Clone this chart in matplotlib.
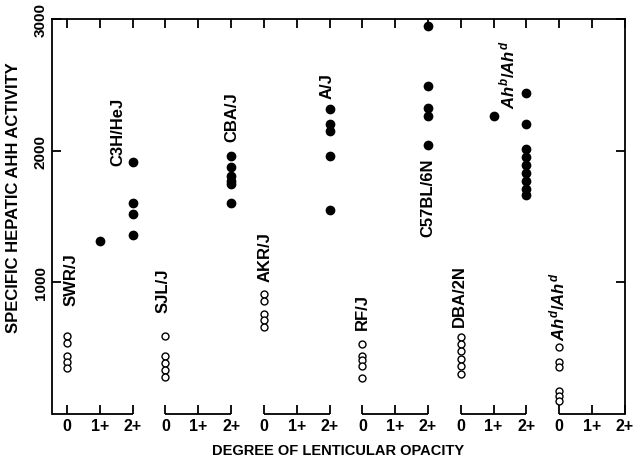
import matplotlib
matplotlib.use("Agg")
import matplotlib.pyplot as plt

plt.rcParams["font.family"] = ["Liberation Sans", "DejaVu Sans"]
plt.rcParams["mathtext.fontset"] = "custom"
plt.rcParams["mathtext.it"] = "Liberation Sans:italic:bold"
plt.rcParams["mathtext.rm"] = "Liberation Sans:bold"

# opacity slots: 6 blocks of 0 / 1+ / 2+
opacity_labels = ["0", "1+", "2+"] * 6

# resistant strains (open circles), all at opacity 0
swr_j = [590, 535, 440, 390, 345]
sjl_j = [590, 440, 385, 330, 275]
akr_j = [910, 855, 757, 711, 658]
rf_j = [528, 440, 405, 360, 270]
dba_2n = [580, 527, 475, 414, 361, 300]
ahd_ahd = [505, 392, 354, 171, 133, 95]

# susceptible strains (filled circles)
c3h_1 = [1310]
c3h_2 = [1910, 1600, 1515, 1355]
cba_j = [1958, 1874, 1806, 1768, 1745, 1600]
a_j = [2316, 2200, 2145, 1955, 1545]
c57bl = [2945, 2490, 2320, 2260, 2045]
ahb_1 = [2262]
ahb_2 = [2440, 2205, 2010, 1950, 1890, 1830, 1770, 1710, 1660]

open_groups = [(0, swr_j), (3, sjl_j), (6, akr_j), (9, rf_j), (12, dba_2n), (15, ahd_ahd)]
filled_groups = [(1, c3h_1), (2, c3h_2), (5, cba_j), (8, a_j), (11, c57bl),
                 (13, ahb_1), (14, ahb_2)]

labels = [
    ("SWR/J", 0.12, 1023),
    ("C3H/HeJ", 1.55, 2148),
    ("SJL/J", 2.93, 939),
    ("CBA/J", 5.03, 2262),
    ("AKR/J", 6.03, 1198),
    ("A/J", 7.92, 2498),
    ("RF/J", 8.99, 779),
    ("C57BL/6N", 11.0, 1646),
    ("DBA/2N", 11.97, 901),
    (r"$Ah^b/Ah^d$", 13.41, 2581),
    (r"$Ah^d/Ah^d$", 14.96, 818),
]

fig = plt.figure(figsize=(6.35, 4.6), dpi=100)
ax = fig.add_axes([0.082, 0.0989, 0.902, 0.8576])

for x, vals in open_groups:
    ax.plot([x] * len(vals), vals, "o", ms=5.0, mfc="white", mec="black",
            mew=1.0, clip_on=False, zorder=3)
for x, vals in filled_groups:
    ax.plot([x] * len(vals), vals, "o", ms=6.0, color="black",
            clip_on=False, zorder=3)

for txt, x, y in labels:
    ax.text(x, y, txt, rotation=90, ha="center", va="center",
            fontsize=12, fontweight="bold")

ax.set_xlim(-0.457, 17)
ax.set_ylim(0, 3000)

# broken bottom axis, one segment per block
ax.spines["bottom"].set_visible(False)
starts = [-0.457, 3, 6, 9, 12, 15]
ends = [2, 5, 8, 11, 14, 17]
ax.hlines([0] * 6, starts, ends, color="black", lw=1.3, clip_on=False)
for s in ["left", "right", "top"]:
    ax.spines[s].set_linewidth(1.3)

ax.set_xticks(range(18))
ax.set_xticklabels(opacity_labels, fontsize=11.5, fontweight="bold")
ax.set_yticks([1000, 2000, 3000])
ax.set_yticklabels(["1000", "2000", "3000"], fontsize=11, fontweight="bold",
                   rotation=90, va="center")
ax.tick_params(axis="x", direction="in", length=6.5, width=1.3,
               top=True, bottom=True, pad=3)
ax.tick_params(axis="y", direction="in", length=6.5, width=1.3,
               left=True, right=True, pad=3)

ax.set_xlabel("DEGREE OF LENTICULAR OPACITY", fontsize=10.5, fontweight="bold")
ax.xaxis.set_label_coords(0.5, -0.075)
ax.set_ylabel("SPECIFIC HEPATIC AHH ACTIVITY", fontsize=12, fontweight="bold")
ax.yaxis.set_label_coords(-0.054, 0.55)

fig.savefig("out.png", dpi=100)
